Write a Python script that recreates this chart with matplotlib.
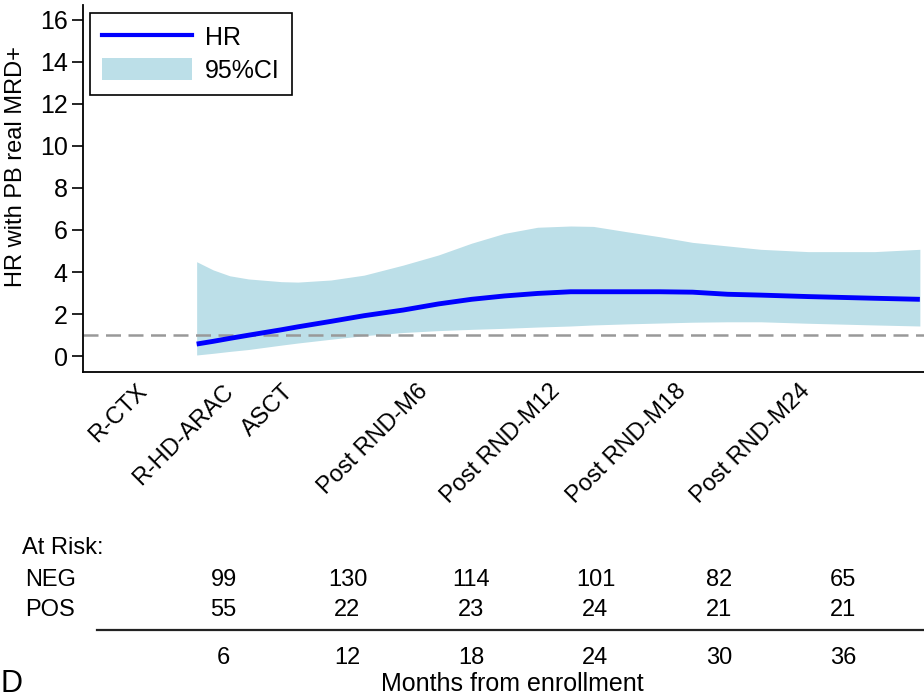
import matplotlib
matplotlib.use("Agg")
import matplotlib.pyplot as plt
from matplotlib.patches import Patch
from matplotlib.lines import Line2D
from matplotlib.transforms import blended_transform_factory

plt.rcParams['font.family'] = ['Liberation Sans', 'DejaVu Sans']

# months from enrollment and the estimated hazard ratio with its 95% CI
months = [4.7, 5.5, 6.3, 7.2, 8.8, 9.6, 11.2, 12.8, 14.7, 16.4, 18.0, 19.6,
          21.2, 22.8, 23.9, 25.5, 27.1, 28.7, 30.4, 32.0, 34.3, 35.9, 37.5,
          39.7]
hr = [0.57, 0.70, 0.84, 0.99, 1.25, 1.39, 1.65, 1.92, 2.19, 2.48, 2.70, 2.86,
      2.98, 3.06, 3.06, 3.06, 3.06, 3.04, 2.94, 2.90, 2.83, 2.79, 2.75, 2.70]
ci_up = [4.49, 4.10, 3.82, 3.67, 3.54, 3.52, 3.62, 3.85, 4.33, 4.81, 5.37,
         5.84, 6.13, 6.19, 6.17, 5.92, 5.68, 5.41, 5.24, 5.08, 4.97, 4.97,
         4.97, 5.08]
ci_lo = [0.05, 0.13, 0.22, 0.31, 0.52, 0.62, 0.80, 0.97, 1.12, 1.21, 1.27,
         1.32, 1.38, 1.43, 1.48, 1.53, 1.57, 1.61, 1.63, 1.63, 1.56, 1.52,
         1.48, 1.43]

phase_pos = [2.5, 6.7, 9.6, 16.1, 22.5, 28.6, 34.6]
phase_labels = ['R-CTX', 'R-HD-ARAC', 'ASCT', 'Post RND-M6',
                'Post RND-M12', 'Post RND-M18', 'Post RND-M24']

risk_months = [6, 12, 18, 24, 30, 36]
neg_at_risk = [99, 130, 114, 101, 82, 65]
pos_at_risk = [55, 22, 23, 24, 21, 21]

fig = plt.figure(figsize=(9.24, 6.99), dpi=100)
ax = fig.add_axes([83 / 924, 1 - 372 / 699, 841 / 924, 367 / 699])

ax.fill_between(months, ci_lo, ci_up, color='#bcdfe8', lw=0)
ax.axhline(1, color='#999999', lw=1.8, dashes=(6, 3))
ax.plot(months, hr, color='#0000ff', lw=3.5, solid_capstyle='butt')

ax.set_xlim(-0.8, 39.9)
ax.set_ylim(-0.76, 16.71)
ax.set_yticks(range(0, 17, 2))
ax.tick_params(axis='y', labelsize=18, length=8, width=1.2, pad=3)
ax.set_ylabel('HR with PB real MRD+', fontsize=17)
ax.yaxis.set_label_coords(-0.066, 0.56)

ax.set_xticks(phase_pos)
ax.set_xticklabels(phase_labels, rotation=45, ha='right', va='top',
                   fontsize=17)
ax.tick_params(axis='x', length=0, pad=6)

for s in ['top', 'right']:
    ax.spines[s].set_visible(False)
for s in ['left', 'bottom']:
    ax.spines[s].set_linewidth(1.3)

handles = [Line2D([], [], color='#0000ff', lw=3),
           Patch(facecolor='#bcdfe8', edgecolor='none')]
leg = ax.legend(handles, ['HR', '95%CI'], loc='upper left',
                bbox_to_anchor=(0.008, 0.978), borderaxespad=0,
                fontsize=18, handlelength=3.6, handleheight=1.0,
                handletextpad=0.5, fancybox=False, framealpha=1,
                edgecolor='black', borderpad=0.5, labelspacing=0.3)
leg.get_frame().set_linewidth(1.2)

# at-risk table under the plot
tf = fig.transFigure
bt = blended_transform_factory(ax.transData, tf)


def fy(py):
    return 1 - py / 699


fig.text(22 / 924, fy(548), 'At Risk:', fontsize=17, va='center')
fig.text(25 / 924, fy(580), 'NEG', fontsize=17, va='center')
fig.text(25 / 924, fy(610), 'POS', fontsize=17, va='center')
for m, n, p in zip(risk_months, neg_at_risk, pos_at_risk):
    fig.text(m, fy(580), str(n), transform=bt, fontsize=17, ha='center',
             va='center')
    fig.text(m, fy(610), str(p), transform=bt, fontsize=17, ha='center',
             va='center')
    fig.text(m, fy(658), str(m), transform=bt, fontsize=17, ha='center',
             va='center')

fig.add_artist(Line2D([97 / 924, 1.0], [fy(630), fy(630)], transform=tf,
                      color='#222222', lw=1.6))
fig.text(0.5 / 924, fy(684), 'D', fontsize=22, va='center')
fig.text(512 / 924, fy(684), 'Months from enrollment', fontsize=18,
         ha='center', va='center')

fig.savefig('out.png', dpi=100)
